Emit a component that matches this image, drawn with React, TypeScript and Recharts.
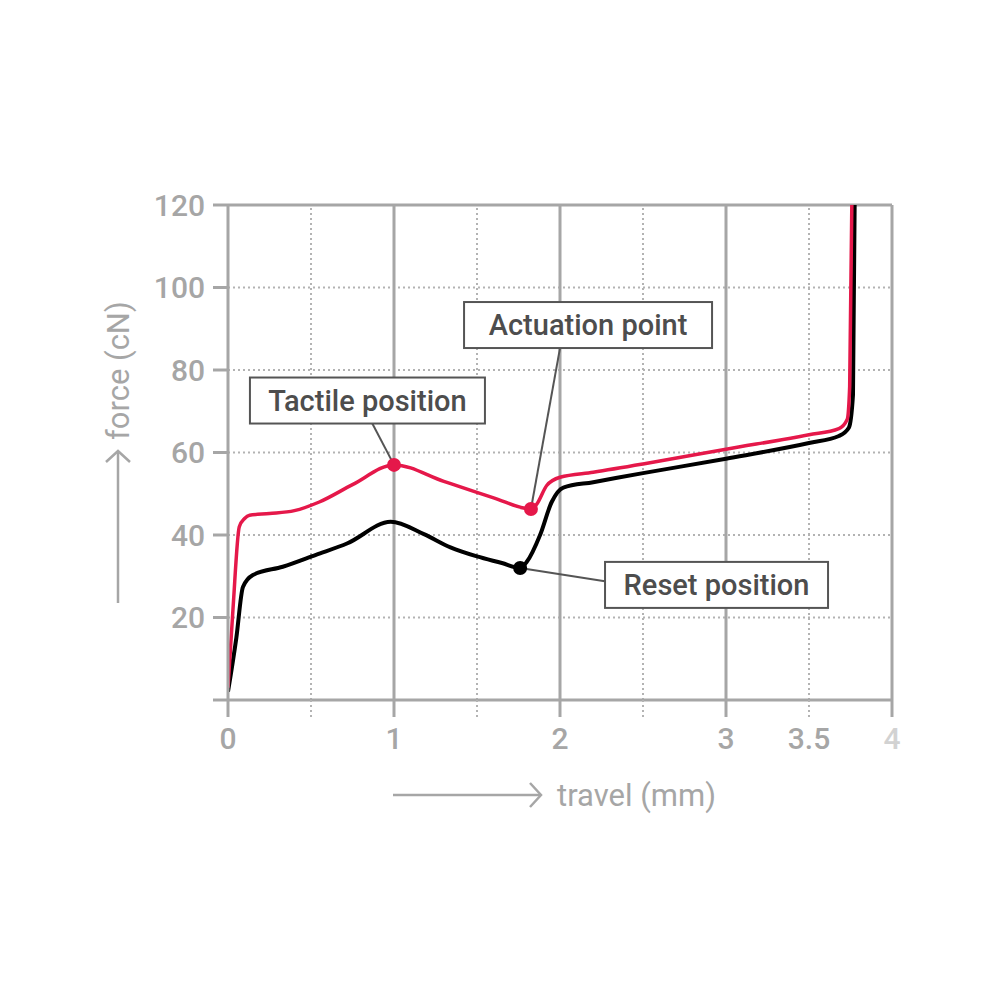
import {
  LineChart,
  Line,
  XAxis,
  YAxis,
  ReferenceLine,
  ReferenceDot,
} from "recharts"

// travel (mm) / force (cN)
const pressX = [0, 0.03, 0.068, 0.1, 0.13, 0.25, 0.4, 0.55, 0.75, 1.0, 1.3, 1.6, 1.825, 1.86, 1.92, 2.0, 2.2, 2.5, 3.0, 3.5, 3.68, 3.73, 3.745, 3.758]
const pressY = [3, 22, 42, 44, 44.8, 45.2, 45.9, 48, 52.2, 57, 53, 49, 46.3, 47.5, 52, 54, 55.2, 57.2, 60.8, 64.3, 65.8, 68, 76, 120]

const releaseX = [0, 0.05, 0.09, 0.15, 0.33, 0.53, 0.72, 0.98, 1.18, 1.34, 1.5, 1.65, 1.76, 1.8, 1.88, 1.95, 2.02, 2.2, 2.5, 3.0, 3.5, 3.68, 3.74, 3.765, 3.775]
const releaseY = [2, 15, 27.4, 30.3, 32.3, 35.2, 38, 43.2, 40.2, 37, 34.8, 33.2, 32, 33.5, 40, 48, 51.5, 52.8, 55, 58.5, 62.3, 64, 66, 74, 120]

const xTicks = [0, 0.5, 1, 1.5, 2, 2.5, 3, 3.5, 4]
const xLabelled = [0, 1, 2, 3, 3.5, 4]
const yTicks = [0, 20, 40, 60, 80, 100, 120]
const gridSolidX = [1, 2, 3, 4]
const gridDottedX = [0.5, 1.5, 2.5, 3.5]
const gridDottedY = [20, 40, 60, 80, 100]
const gridSolidY = [120]

const pressData = pressX.map((x, i) => ({ x, y: pressY[i] }))
const releaseData = releaseX.map((x, i) => ({ x, y: releaseY[i] }))

// marked points + where their label sits (data units)
const notes = [
  { text: "Tactile position", px: 1, py: 57, color: "#e5184a", lx: 0.867, ly: 67.2, bx: 0.84, by: 72.6, w: 235 },
  { text: "Actuation point", px: 1.825, py: 46.3, color: "#e5184a", lx: 2.0, ly: 85.3, bx: 2.169, by: 90.9, w: 248 },
  { text: "Reset position", px: 1.76, py: 32, color: "#000", lx: 2.27, ly: 28.8, bx: 2.943, by: 27.9, w: 223 },
]

const RED = "#e5184a"
const GREY = "#a6a6a6"
const DARK = "#555"
const FONT = "Roboto, 'DejaVu Sans', sans-serif"

const XTick = (props: any) => {
  const { x, y, payload } = props
  const v = payload.value
  const whole = Number.isInteger(v)
  return (
    <g>
      <line
        x1={x} x2={x} y1={y} y2={y + 17}
        stroke={whole ? GREY : "#b3b3b3"}
        strokeWidth={whole ? 3 : 2}
        strokeDasharray={whole ? undefined : "2 3"}
      />
      {xLabelled.includes(v) && (
        <text x={x} y={y + 49} textAnchor="middle" fontSize={30} fontWeight={500} fontFamily={FONT}
          fill={v === 4 ? "#d2d2d2" : GREY}>
          {v}
        </text>
      )}
    </g>
  )
}

const boxShape = (n: any) => (p: any) => (
  <g>
    <rect x={p.cx - n.w / 2} y={p.cy - 23} width={n.w} height={46} fill="#fff" stroke={DARK} strokeWidth={2} />
    <text x={p.cx} y={p.cy + 10} textAnchor="middle" fontSize={29} fontWeight={500} fontFamily={FONT} fill="#4d4d4d">
      {n.text}
    </text>
  </g>
)

export default function App() {
  return (
    <div style={{ position: "absolute", left: 0, top: 0, width: 1000, height: 1000, background: "#fff" }}>
      <LineChart width={1000} height={1000} margin={{ top: 205, right: 108, bottom: 240, left: 168 }}>
        <XAxis
          type="number" dataKey="x" domain={[0, 4]} ticks={xTicks} allowDataOverflow
          height={60} tickSize={0} tickMargin={0} tickLine={false}
          axisLine={{ stroke: GREY, strokeWidth: 3 }}
          tick={<XTick />} interval={0}
        />
        <YAxis
          type="number" dataKey="y" domain={[0, 120]} ticks={yTicks} allowDataOverflow
          width={60} tickSize={15} tickMargin={8}
          axisLine={{ stroke: GREY, strokeWidth: 3 }}
          tickLine={{ stroke: GREY, strokeWidth: 3 }}
          tick={{ fill: GREY, fontSize: 30, fontWeight: 500, fontFamily: FONT }}
          tickFormatter={(v: number) => (v === 0 ? "" : String(v))}
          interval={0}
        />
        {gridDottedX.map(v => (
          <ReferenceLine key={"dx" + v} x={v} stroke="#b3b3b3" strokeWidth={2} strokeDasharray="2 3" />
        ))}
        {gridDottedY.map(v => (
          <ReferenceLine key={"dy" + v} y={v} stroke="#b3b3b3" strokeWidth={2} strokeDasharray="2 3" />
        ))}
        {gridSolidX.map(v => (
          <ReferenceLine key={"sx" + v} x={v} stroke={GREY} strokeWidth={3} />
        ))}
        {gridSolidY.map(v => (
          <ReferenceLine key={"sy" + v} y={v} stroke={GREY} strokeWidth={3} />
        ))}
        {notes.map(n => (
          <ReferenceLine key={"l" + n.text} segment={[{ x: n.px, y: n.py }, { x: n.lx, y: n.ly }]} stroke={DARK} strokeWidth={2} />
        ))}
        {notes.map(n => (
          <ReferenceDot key={"b" + n.text} x={n.bx} y={n.by} shape={boxShape(n)} />
        ))}
        <Line data={releaseData} dataKey="y" type="monotone" stroke="#000" strokeWidth={4} dot={false} isAnimationActive={false} />
        <Line data={pressData} dataKey="y" type="monotone" stroke={RED} strokeWidth={3.5} dot={false} isAnimationActive={false} />
        {notes.map(n => (
          <ReferenceDot key={"d" + n.text} x={n.px} y={n.py} r={7} fill={n.color} stroke="none" />
        ))}
      </LineChart>
      <svg width={1000} height={1000} style={{ position: "absolute", left: 0, top: 0, pointerEvents: "none" }}>
        <g stroke={GREY} strokeWidth={2.5} fill="none">
          <line x1={393} y1={795} x2={540} y2={795} />
          <polyline points="530,783 541,795 530,807" />
          <line x1={118} y1={603} x2={118} y2={452} />
          <polyline points="106,462 118,451 130,462" />
        </g>
        <text x={557} y={806} fontSize={31} fontFamily={FONT} fill={GREY}>travel (mm)</text>
        <text x={129} y={440} fontSize={31} fontFamily={FONT} fill={GREY} transform="rotate(-90 129 440)">force (cN)</text>
      </svg>
    </div>
  )
}
